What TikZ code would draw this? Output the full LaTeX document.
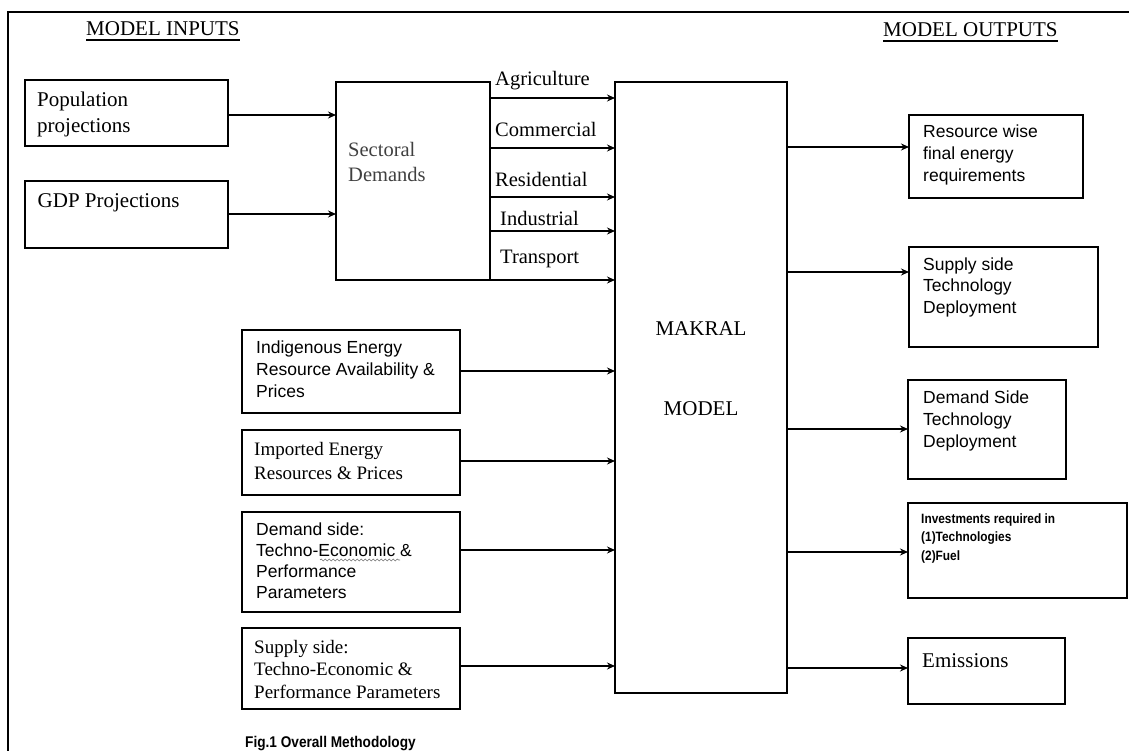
\documentclass[tikz,border=0pt]{standalone}
\usepackage{fontspec}
\setmainfont{Liberation Serif}
\setsansfont{Liberation Sans}
\newfontfamily\narrowsf[FakeStretch=0.88]{Liberation Sans}
\usetikzlibrary{arrows.meta, positioning, decorations.pathmorphing}

\begin{document}
\begin{tikzpicture}[x=1pt, y=-1pt,
		box/.style={draw, line width=1.6pt, inner sep=0pt, outer sep=0pt, anchor=north west},
		arr/.style={line width=1.6pt, -{Stealth[length=8pt,width=7pt]}},
		bigtext/.style={inner sep=0pt, anchor=base west, align=left, font=\fontsize{21}{26}\selectfont},
		smalltext/.style={inner sep=0pt, anchor=base west, align=left, font=\fontsize{19}{24}\selectfont},
		sftext/.style={inner sep=0pt, anchor=base west, align=left, font=\sffamily\fontsize{17.5}{22}\selectfont},
		heading/.style={inner sep=0pt, anchor=base west, font=\fontsize{21}{26}\selectfont}]
		\useasboundingbox (0,0) rectangle (1129,751);
		% frame
		\draw[line width=1.6pt] (1129,12) -- (8,12) -- (8,751);
		\node[heading] (inputs) at (86,36) {MODEL INPUTS};
		\node[heading] (outputs) at (883,37) {MODEL OUTPUTS};
		\draw[line width=1.2pt] ([yshift=-4pt]inputs.base west) -- ([yshift=-4pt]inputs.base east);
		\draw[line width=1.2pt] ([yshift=-4pt]outputs.base west) -- ([yshift=-4pt]outputs.base east);

		% inputs (text nodes sit on the baseline of their last line)
		\node[box, minimum width=203pt, minimum height=66pt] (pop) at (25,80) {};
		\node[box, minimum width=203pt, minimum height=67pt] (gdp) at (25,181) {};
		\node[bigtext] (pop-t) at ([shift={(12,53)}]pop.north west) {Population\\projections};
		\node[bigtext] (gdp-t) at ([shift={(12.5,27)}]gdp.north west) {GDP Projections};

		\node[box, minimum width=154pt, minimum height=198pt] (sect) at (336,82) {};
		\node[bigtext, text=black!75, font=\fontsize{20.5}{25}\selectfont] (sect-t) at ([shift={(12,100)}]sect.north west) {Sectoral\\Demands};
		\node[box, minimum width=172pt, minimum height=611pt] (mak) at (615,82) {};
		\node[inner sep=0pt, anchor=base, font=\fontsize{21}{26}\selectfont] (mak-t1) at (mak.north |- 0,335) {MAKRAL};
		\node[inner sep=0pt, anchor=base, font=\fontsize{21}{26}\selectfont] (mak-t2) at (mak.north |- 0,415) {MODEL};

		\draw[arr] (pop.east |- 0,115) -- (sect.west |- 0,115);
		\draw[arr] (gdp.east |- 0,214) -- (sect.west |- 0,214);

		% sectors
		\foreach \yy/\lab/\off/\base in {98/Agriculture/5/86, 148/Commercial/5/137, 197/Residential/5/187, 231/Industrial/10/226, 280/Transport/10/263} {
			\draw[arr] (sect.east |- 0,\yy) -- (mak.west |- 0,\yy);
			\node[bigtext, font=\fontsize{20.5}{25}\selectfont, xshift=\off pt] (sec-\lab) at (sect.east |- 0,\base) {\lab};
		}

		\node[box, minimum width=218pt, minimum height=83pt] (ind) at (242,330) {};
		\node[box, minimum width=218pt, minimum height=65pt] (imp) at (242,430) {};
		\node[box, minimum width=218pt, minimum height=100pt] (dem) at (242,512) {};
		\node[box, minimum width=218pt, minimum height=81pt] (sup) at (242,628) {};
		\node[sftext] (ind-t) at ([shift={(14,67)}]ind.north west) {Indigenous Energy\\Resource Availability \&\\Prices};
		\node[smalltext] (imp-t) at ([shift={(12,49)}]imp.north west) {Imported Energy\\Resources \& Prices};
		\node[sftext, font=\sffamily\fontsize{17.5}{21}\selectfont] (dem-t) at ([shift={(14,86)}]dem.north west) {Demand side:\\Techno-Economic \&\\Performance\\Parameters};
		\draw[black!55, line width=0.6pt, decorate, decoration={snake, amplitude=1pt, segment length=4pt}] ([shift={(78,48)}]dem.north west) -- ([shift={(158,48)}]dem.north west);
		\node[smalltext, font=\fontsize{19}{22.5}\selectfont] (sup-t) at ([shift={(12,70)}]sup.north west) {Supply side:\\Techno-Economic \&\\Performance Parameters};
		\draw[arr] (ind.east |- 0,371) -- (mak.west |- 0,371);
		\draw[arr] (imp.east |- 0,461) -- (mak.west |- 0,461);
		\draw[arr] (dem.east |- 0,550) -- (mak.west |- 0,550);
		\draw[arr] (sup.east |- 0,666) -- (mak.west |- 0,666);

		% outputs
		\node[box, minimum width=174pt, minimum height=83pt] (res) at (909,115) {};
		\node[box, minimum width=189pt, minimum height=100pt] (ssd) at (909,247) {};
		\node[box, minimum width=158pt, minimum height=99pt] (dsd) at (908,380) {};
		\node[box, minimum width=219pt, minimum height=95pt] (inv) at (908,503) {};
		\node[box, minimum width=157pt, minimum height=66pt] (emi) at (908,638) {};
		\node[sftext] (res-t) at ([shift={(14,67)}]res.north west) {Resource wise\\final energy\\requirements};
		\node[sftext, font=\sffamily\fontsize{17.5}{21.5}\selectfont] (ssd-t) at ([shift={(14,66)}]ssd.north west) {Supply side\\Technology\\Deployment};
		\node[sftext] (dsd-t) at ([shift={(15,67)}]dsd.north west) {Demand Side\\Technology\\Deployment};
		\node[sftext, font=\narrowsf\bfseries\fontsize{13.5}{18.5}\selectfont] (inv-t) at ([shift={(13,57)}]inv.north west) {Investments required in\\(1)Technologies\\(2)Fuel};
		\node[bigtext] (emi-t) at ([shift={(14,29)}]emi.north west) {Emissions};
		\draw[arr] (mak.east |- 0,147) -- (res.west |- 0,147);
		\draw[arr] (mak.east |- 0,272) -- (ssd.west |- 0,272);
		\draw[arr] (mak.east |- 0,429) -- (dsd.west |- 0,429);
		\draw[arr] (mak.east |- 0,552) -- (inv.west |- 0,552);
		\draw[arr] (mak.east |- 0,668) -- (emi.west |- 0,668);

		\node[inner sep=0pt, anchor=base west, font=\narrowsf\bfseries\fontsize{15.5}{18}\selectfont] (caption) at (245,747) {Fig.1 Overall Methodology};
	\end{tikzpicture}
\end{document}
